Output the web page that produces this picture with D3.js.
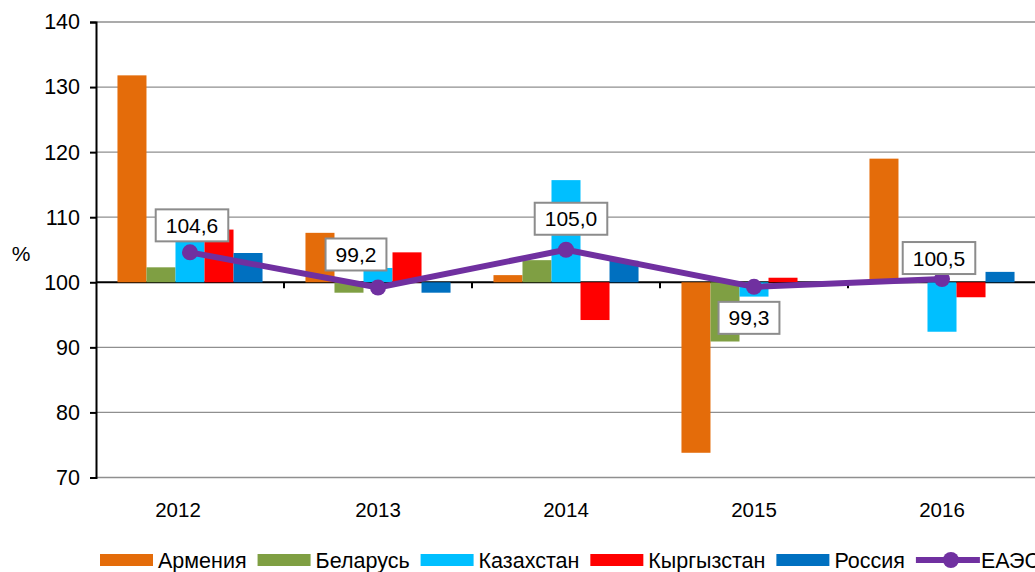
<!DOCTYPE html>
<html>
<head>
<meta charset="utf-8">
<script src="https://cdn.jsdelivr.net/npm/d3@7"></script>
<style>
  html, body { margin: 0; padding: 0; background: #fff; }
  svg { display: block; font-family: "Liberation Sans", Arial, sans-serif; }
</style>
</head>
<body>
<svg id="chart" width="1035" height="572"></svg>
<script>
// ── data
const years     = ['2012', '2013', '2014', '2015', '2016'];
const countries = ['Армения', 'Беларусь', 'Казахстан', 'Кыргызстан', 'Россия'];
const armenia    = [131.8, 107.6, 101.1, 73.8, 119.0];
const belarus    = [102.3, 98.4, 103.4, 90.9, 100.2];
const kazakhstan = [106.5, 102.2, 115.7, 97.8, 92.4];
const kyrgyzstan = [108.1, 104.6, 94.2, 100.7, 97.7];
const russia     = [104.5, 98.4, 103.3, 99.6, 101.6];
const eaes       = [104.6, 99.2, 105.0, 99.3, 100.5];
const eaesLabels = ['104,6', '99,2', '105,0', '99,3', '100,5'];
const yTicks     = [70, 80, 90, 100, 110, 120, 130, 140];
const lineName   = 'ЕАЭС';

// ── styling
const colors = ['#E46C0A', '#7F9F43', '#00BFFF', '#FF0000', '#0070C0'];
const purple = '#7030A0';
const labelOffsets = [[2, -27], [-22, -33], [5, -31], [-5, 31], [-3, -21]]; // box centre vs point

const series = [armenia, belarus, kazakhstan, kyrgyzstan, russia];

const svg = d3.select('#chart');
const plotL = 96, plotR = 1036, plotT = 22, plotB = 477.5;

const y = d3.scaleLinear().domain([70, 140]).range([plotB, plotT]);
const x = d3.scaleBand().domain(years).range([plotL, plotR]).padding(0);
const xs = d3.scaleBand().domain(countries).range([0, x.bandwidth()])
  .paddingInner(0).paddingOuter(0.74);

// gridlines
svg.append('g')
  .selectAll('line')
  .data(yTicks.filter(t => t !== 100))
  .join('line')
  .attr('x1', plotL).attr('x2', plotR)
  .attr('y1', d => y(d)).attr('y2', d => y(d))
  .attr('stroke', '#8f8f8f').attr('stroke-width', 1.3);

// x axis at 100
svg.append('line')
  .attr('x1', plotL).attr('x2', plotR)
  .attr('y1', y(100)).attr('y2', y(100))
  .attr('stroke', '#000').attr('stroke-width', 2);

svg.append('g')
  .selectAll('line')
  .data(years.slice(1))
  .join('line')
  .attr('x1', d => x(d)).attr('x2', d => x(d))
  .attr('y1', y(100)).attr('y2', y(100) + 6)
  .attr('stroke', '#000').attr('stroke-width', 2);

// y axis
const yAxis = svg.append('g')
  .attr('transform', `translate(${plotL},0)`)
  .call(d3.axisLeft(y).tickValues(yTicks).tickSize(6).tickPadding(10));
yAxis.select('.domain').attr('stroke', '#000').attr('stroke-width', 2);
yAxis.selectAll('.tick line').attr('stroke', '#000').attr('stroke-width', 2);
yAxis.selectAll('.tick text')
  .attr('font-size', 21.5).attr('fill', '#000')
  .attr('font-family', '"Liberation Sans", Arial, sans-serif');

svg.append('text')
  .attr('x', 21).attr('y', 261)
  .attr('text-anchor', 'middle')
  .attr('font-size', 21)
  .text('%');

// year labels
svg.append('g')
  .selectAll('text')
  .data(years)
  .join('text')
  .attr('x', d => x(d) + x.bandwidth() / 2)
  .attr('dx', (d, i) => i === 0 ? -12 : 0)
  .attr('y', 517)
  .attr('text-anchor', 'middle')
  .attr('font-size', 20.5)
  .text(d => d);

// bars
series.forEach((vals, si) => {
  svg.append('g')
    .selectAll('rect')
    .data(vals)
    .join('rect')
    .attr('x', (d, i) => x(years[i]) + xs(countries[si]))
    .attr('width', xs.bandwidth())
    .attr('y', d => Math.min(y(d), y(100)))
    .attr('height', d => Math.abs(y(d) - y(100)))
    .attr('fill', colors[si]);
});

// EAES line
const cx = (d, i) => x(years[i]) + x.bandwidth() / 2;
svg.append('path')
  .datum(eaes)
  .attr('d', d3.line().x(cx).y(d => y(d)))
  .attr('fill', 'none')
  .attr('stroke', purple)
  .attr('stroke-width', 6)
  .attr('stroke-linejoin', 'round');

svg.append('g')
  .selectAll('circle')
  .data(eaes)
  .join('circle')
  .attr('cx', cx)
  .attr('cy', d => y(d))
  .attr('r', 8)
  .attr('fill', purple);

// data labels
const lab = svg.append('g')
  .selectAll('g')
  .data(eaes)
  .join('g')
  .attr('transform', (d, i) => `translate(${cx(d, i) + labelOffsets[i][0]},${y(d) + labelOffsets[i][1]})`);

lab.append('rect').attr('class', 'box');
lab.append('text')
  .attr('text-anchor', 'middle')
  .attr('y', 7.5)
  .attr('font-size', 21)
  .text((d, i) => eaesLabels[i]);
lab.each(function () {
  const g = d3.select(this);
  const w = g.select('text').node().getComputedTextLength() + 20;
  g.select('rect')
    .attr('x', -w / 2).attr('y', -16)
    .attr('width', w).attr('height', 32)
    .attr('fill', '#fff')
    .attr('stroke', '#8c8c8c')
    .attr('stroke-width', 2);
});

// legend
const legend = svg.append('g').attr('transform', 'translate(100,560)');
let lx = 0;
countries.forEach((c, i) => {
  const item = legend.append('g').attr('transform', `translate(${lx},0)`);
  item.append('rect')
    .attr('x', 0).attr('y', -6).attr('width', 53).attr('height', 12)
    .attr('fill', colors[i]);
  const t = item.append('text')
    .attr('x', 58).attr('y', 8)
    .attr('font-size', 21.5)
    .text(c);
  lx += 58 + t.node().getComputedTextLength() + 11;
});
const li = legend.append('g').attr('transform', `translate(${lx},0)`);
li.append('line')
  .attr('x1', 0).attr('x2', 64).attr('y1', 0).attr('y2', 0)
  .attr('stroke', purple).attr('stroke-width', 6);
li.append('circle').attr('cx', 35).attr('cy', 0).attr('r', 8).attr('fill', purple);
li.append('text').attr('x', 65).attr('y', 8).attr('font-size', 21.5).text(lineName);
</script>
</body>
</html>
